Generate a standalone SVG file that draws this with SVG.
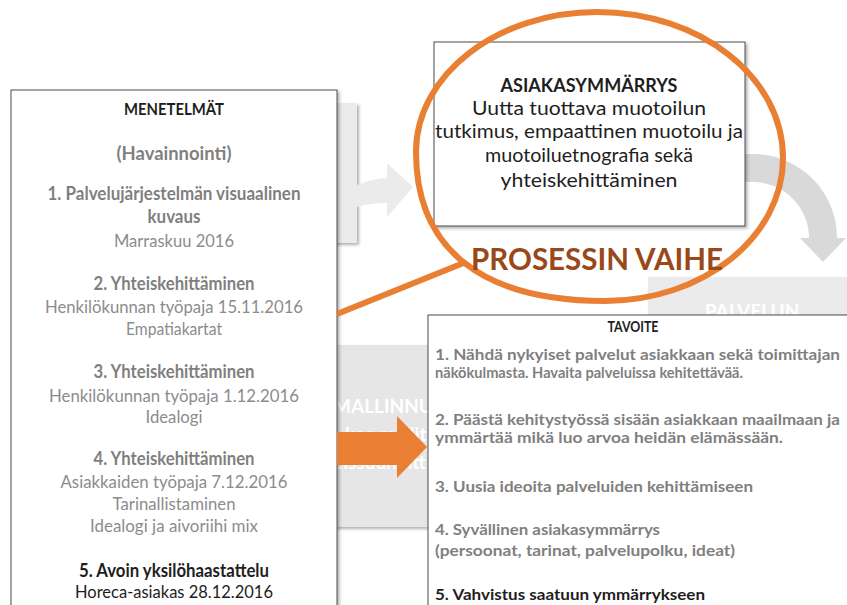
<svg xmlns="http://www.w3.org/2000/svg" width="847" height="605" viewBox="0 0 847 605">
  <defs>
    <filter id="shadow" x="-10%" y="-10%" width="130%" height="130%">
      <feDropShadow dx="2" dy="2" stdDeviation="1.5" flood-color="#000" flood-opacity="0.3"/>
    </filter>
    <style>
      .box { fill: #ffffff; stroke: #4d4d4d; stroke-width: 1; }
      .faded { fill: #ebebeb; }
      .t { font-family: Lato, "Open Sans", "Liberation Sans", sans-serif; text-anchor: middle; }
      .head { font-weight: bold; fill: #1e1e1e; }
      .gb { font-weight: bold; fill: #7f7f7f; }
      .gr { fill: #8c8c8c; }
      .blk { fill: #1e1e1e; }
      .lt { font-family: Lato, "Open Sans", "Liberation Sans", sans-serif; font-size: 16px; font-weight: bold; fill: #7f7f7f; }
      .ghost { font-family: Lato, "Open Sans", "Liberation Sans", sans-serif; font-size: 19px; font-weight: bold; fill: #ffffff; }
      .orange { stroke: #E97F33; stroke-width: 6; fill: none; }
    </style>
  </defs>

  <!-- faded background process stages -->
  <g id="background">
    <rect class="faded" x="290" y="103" width="67" height="140" filter="url(#shadow)"/>
    <path class="faded" d="M357 185 Q372 179 387 178 L387 163 L413 187 L387 217 L387 203 Q372 203 357 207 Z"/>
    <path fill="#d9d9d9" d="M740 154 L753 154 A84 84 0 0 1 837 238 L846 238 L823 262 L800 238 L809 238 A56 56 0 0 0 753 182 L740 182 Z"/>
    <rect class="faded" x="648" y="277" width="210" height="100" filter="url(#shadow)"/>
    <text class="ghost" x="752" y="318" text-anchor="middle">PALVELUN</text>
    <rect fill="#e6e6e6" x="290" y="345" width="150" height="182" filter="url(#shadow)"/>
    <text class="ghost" x="333" y="413">MALLINNUS</text>
    <text class="ghost" x="345" y="441">kee mallit</text>
    <text class="ghost" x="333" y="469">eissuunnitt</text>
  </g>

  <!-- methods box -->
  <g id="menetelmat">
    <rect class="box" x="11" y="90" width="326" height="530" filter="url(#shadow)"/>
    <g class="t" font-size="18">
      <text class="head" x="174" y="115" font-size="17" textLength="100" lengthAdjust="spacingAndGlyphs">MENETELMÄT</text>
      <text class="gb" x="174" y="160" textLength="115" lengthAdjust="spacingAndGlyphs">(Havainnointi)</text>
      <text class="gb" x="174" y="200" textLength="253" lengthAdjust="spacingAndGlyphs">1. Palvelujärjestelmän  visuaalinen</text>
      <text class="gb" x="174" y="223" textLength="53" lengthAdjust="spacingAndGlyphs">kuvaus</text>
      <text class="gr" x="174" y="247" textLength="120" lengthAdjust="spacingAndGlyphs">Marraskuu 2016</text>
      <text class="gb" x="174" y="290" textLength="161" lengthAdjust="spacingAndGlyphs">2. Yhteiskehittäminen</text>
      <text class="gr" x="174" y="313" textLength="258" lengthAdjust="spacingAndGlyphs">Henkilökunnan työpaja 15.11.2016</text>
      <text class="gr" x="174" y="335" textLength="96" lengthAdjust="spacingAndGlyphs">Empatiakartat</text>
      <text class="gb" x="174" y="378" textLength="161" lengthAdjust="spacingAndGlyphs">3. Yhteiskehittäminen</text>
      <text class="gr" x="174" y="402" textLength="250" lengthAdjust="spacingAndGlyphs">Henkilökunnan työpaja 1.12.2016</text>
      <text class="gr" x="174" y="423" textLength="57" lengthAdjust="spacingAndGlyphs">Idealogi</text>
      <text class="gb" x="174" y="465" textLength="161" lengthAdjust="spacingAndGlyphs">4. Yhteiskehittäminen</text>
      <text class="gr" x="174" y="488" textLength="227" lengthAdjust="spacingAndGlyphs">Asiakkaiden työpaja 7.12.2016</text>
      <text class="gr" x="174" y="510" textLength="123" lengthAdjust="spacingAndGlyphs">Tarinallistaminen</text>
      <text class="gr" x="174" y="532" textLength="168" lengthAdjust="spacingAndGlyphs">Idealogi ja aivoriihi mix</text>
      <text class="head" x="174" y="577" textLength="190" lengthAdjust="spacingAndGlyphs">5. Avoin yksilöhaastattelu</text>
      <text class="blk" x="174" y="598" textLength="198" lengthAdjust="spacingAndGlyphs">Horeca-asiakas 28.12.2016</text>
    </g>
  </g>

  <!-- process stage box -->
  <g id="asiakasymmarrys">
    <rect class="box" x="434" y="42" width="311" height="184" filter="url(#shadow)"/>
    <g class="t" font-size="19.5">
      <text class="head" x="589" y="92" font-size="18" textLength="177" lengthAdjust="spacingAndGlyphs">ASIAKASYMMÄRRYS</text>
      <text class="blk" x="589" y="115" textLength="234" lengthAdjust="spacingAndGlyphs">Uutta tuottava muotoilun</text>
      <text class="blk" x="589" y="138" textLength="308" lengthAdjust="spacingAndGlyphs">tutkimus, empaattinen muotoilu ja</text>
      <text class="blk" x="589" y="162" textLength="208" lengthAdjust="spacingAndGlyphs">muotoiluetnografia sekä</text>
      <text class="blk" x="589" y="187" textLength="177" lengthAdjust="spacingAndGlyphs">yhteiskehittäminen</text>
    </g>
  </g>

  <!-- goals box -->
  <g id="tavoite">
    <rect class="box" x="428" y="315" width="430" height="300" filter="url(#shadow)"/>
    <text class="t head" x="633" y="332" font-size="16" textLength="51" lengthAdjust="spacingAndGlyphs">TAVOITE</text>
    <text class="lt" x="435" y="360" textLength="405" lengthAdjust="spacingAndGlyphs">1. Nähdä nykyiset palvelut asiakkaan sekä toimittajan</text>
    <text class="lt" x="435" y="378" textLength="308" lengthAdjust="spacingAndGlyphs">näkökulmasta.  Havaita palveluissa kehitettävää.</text>
    <text class="lt" x="435" y="425" textLength="405" lengthAdjust="spacingAndGlyphs">2. Päästä kehitystyössä sisään asiakkaan maailmaan ja</text>
    <text class="lt" x="435" y="443" textLength="348" lengthAdjust="spacingAndGlyphs">ymmärtää mikä luo arvoa heidän elämässään.</text>
    <text class="lt" x="435" y="492" textLength="318" lengthAdjust="spacingAndGlyphs">3. Uusia ideoita palveluiden kehittämiseen</text>
    <text class="lt" x="435" y="535" textLength="225" lengthAdjust="spacingAndGlyphs">4. Syvällinen asiakasymmärrys</text>
    <text class="lt" x="435" y="556" textLength="300" lengthAdjust="spacingAndGlyphs">(persoonat, tarinat, palvelupolku, ideat)</text>
    <text class="lt" x="435" y="600" style="fill:#1e1e1e" textLength="270" lengthAdjust="spacingAndGlyphs">5. Vahvistus saatuun ymmärrykseen</text>
  </g>

  <!-- highlight callout and arrows -->
  <g id="connectors">
    <path class="orange" d="M416 152 C416 75 497 12 597 12 C700 12 783 77 783 158 C783 237 703 301 605 301 C482 301 416 249 416 152 Z"/>
    <line class="orange" x1="337" y1="314" x2="466" y2="262"/>
    <path fill="#E97F33" d="M337 432 L397 432 L397 416 L427 447 L397 478 L397 465 L337 465 Z"/>
  </g>

  <text id="prosessin-vaihe" x="597" y="270" font-family="Lato, 'Open Sans', 'Liberation Sans', sans-serif" font-size="31" font-weight="bold" fill="#99481A" text-anchor="middle" textLength="252" lengthAdjust="spacingAndGlyphs">PROSESSIN VAIHE</text>
</svg>
